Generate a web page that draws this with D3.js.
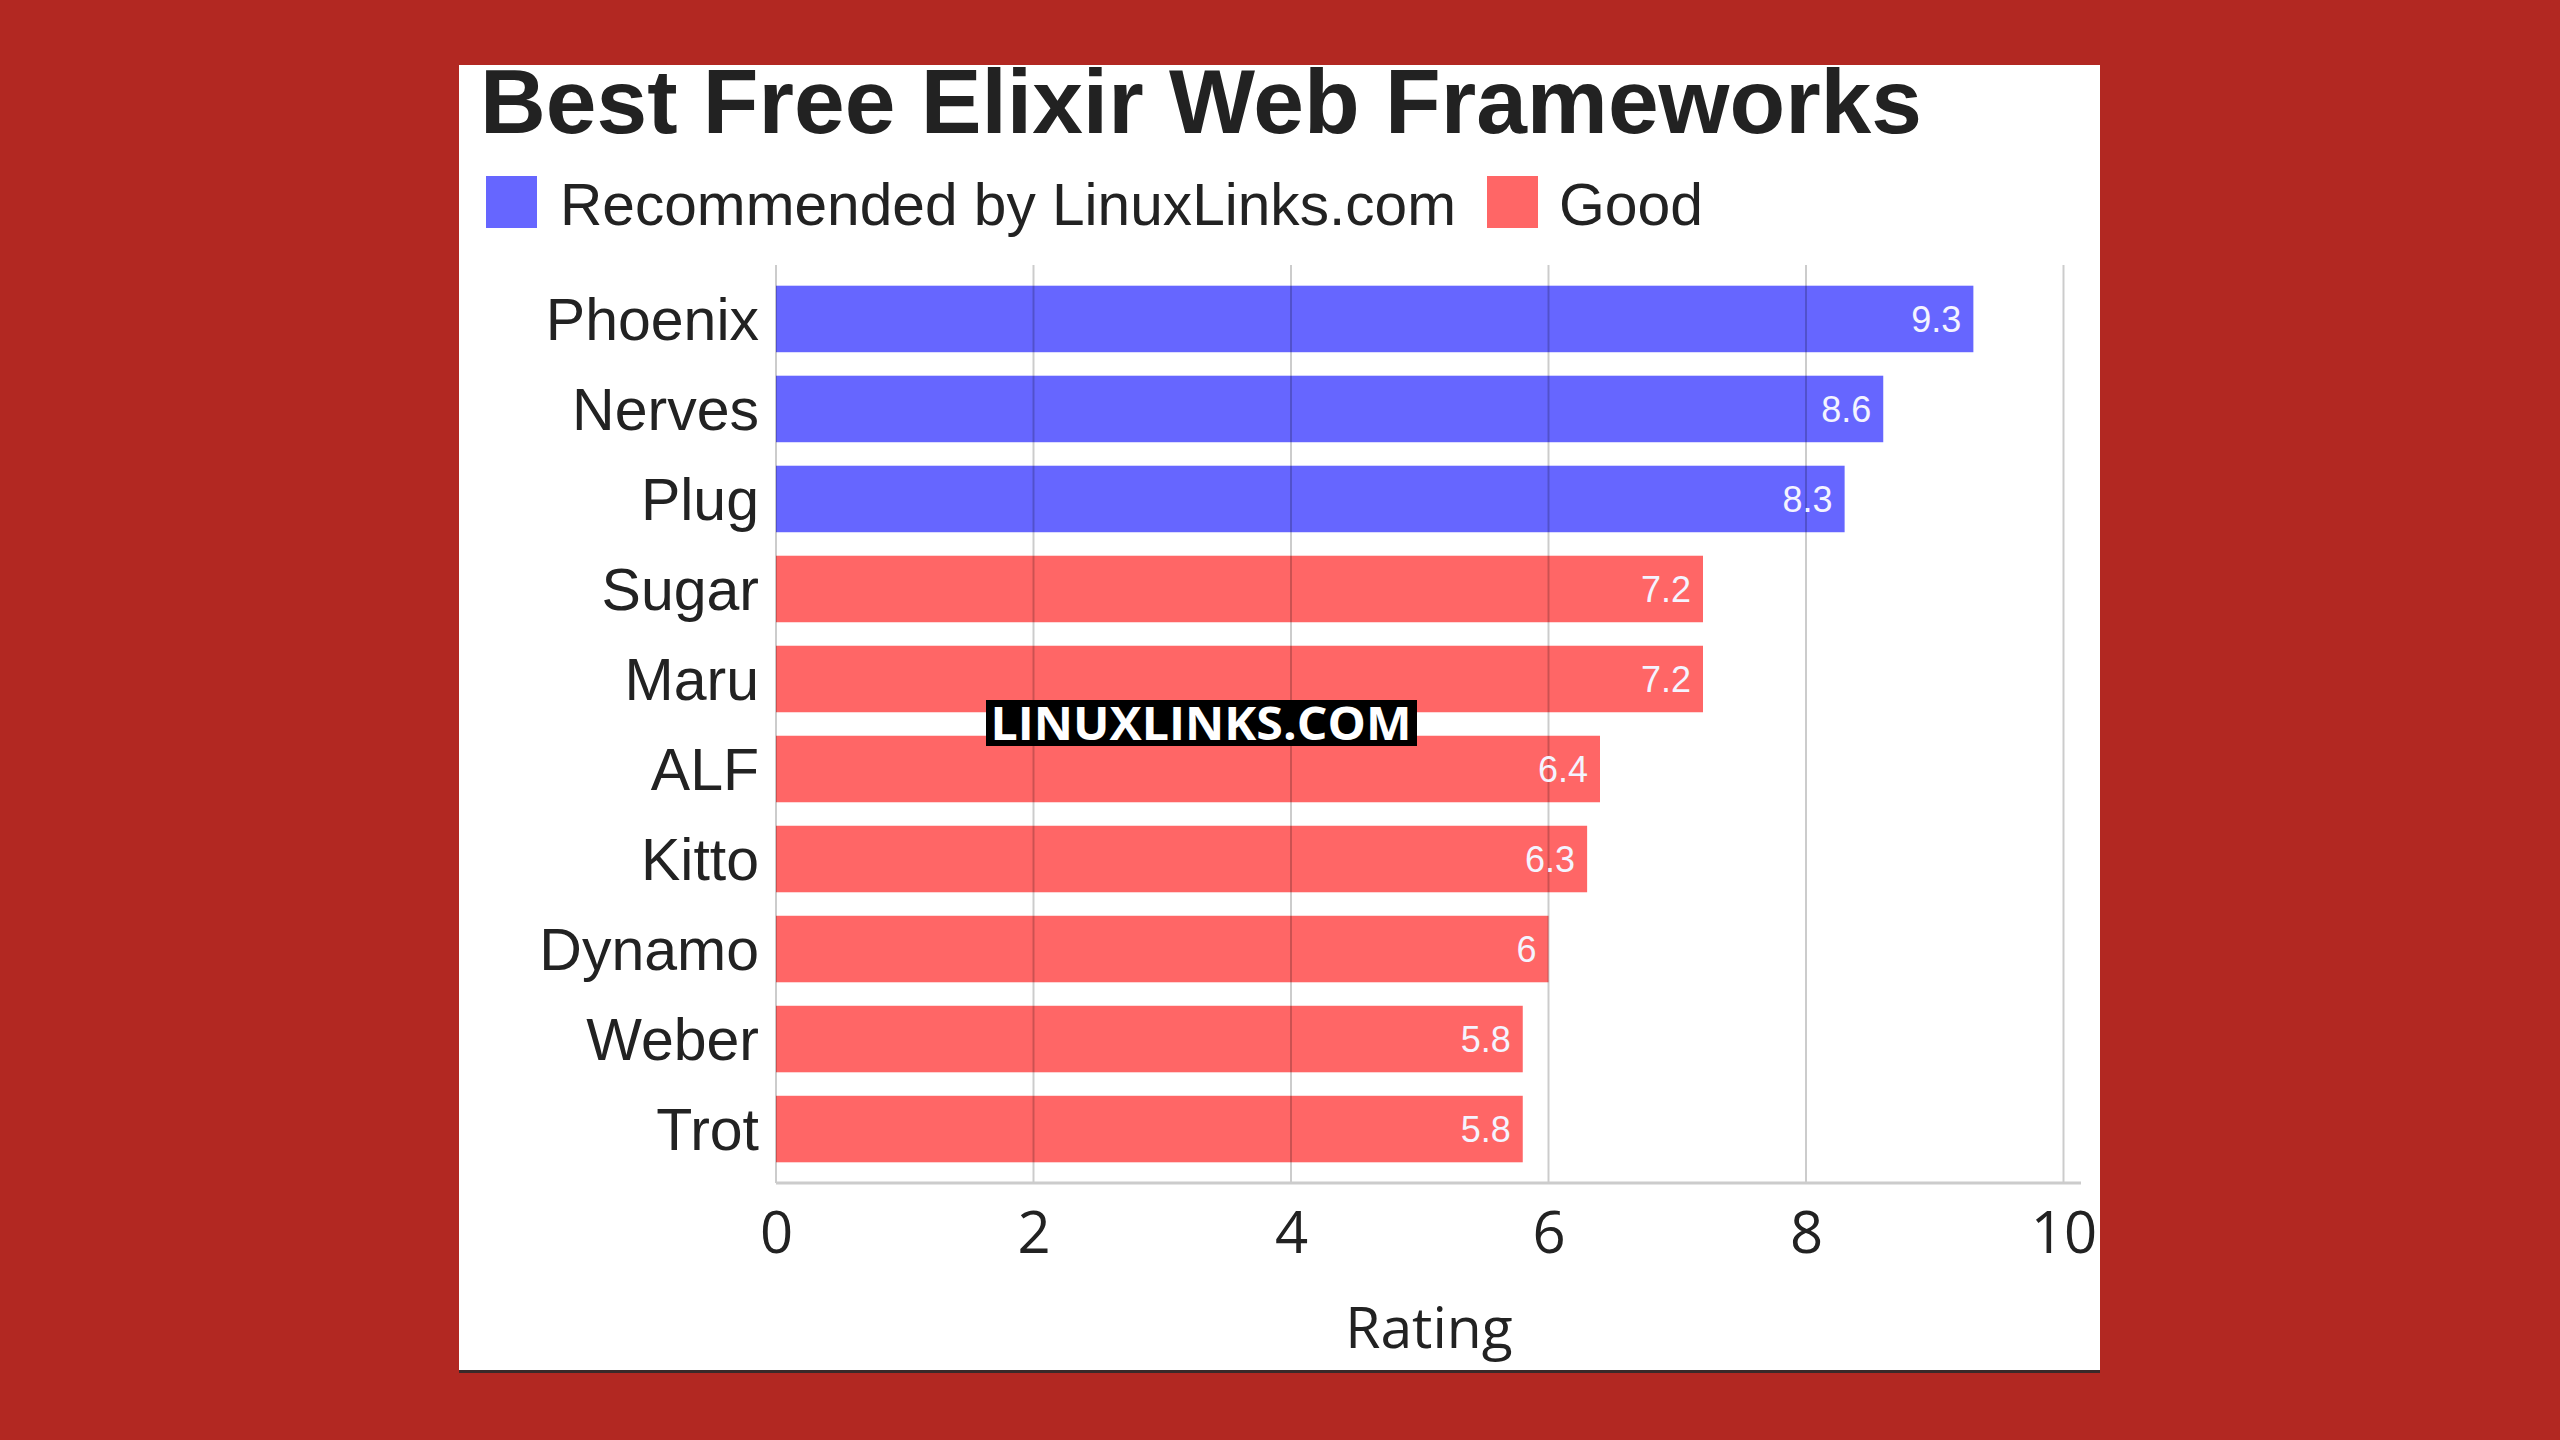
<!DOCTYPE html>
<html>
<head>
<meta charset="utf-8">
<script src="https://cdn.jsdelivr.net/npm/d3@7"></script>
<style>
  html, body { margin: 0; padding: 0; background: #b22822; }
  svg { display: block; }
</style>
</head>
<body>
<svg id="chart" width="2560" height="1440"></svg>
<script>
// ---- data ----
const categories = ["Phoenix", "Nerves", "Plug", "Sugar", "Maru", "ALF", "Kitto", "Dynamo", "Weber", "Trot"];
const ratings = [9.3, 8.6, 8.3, 7.2, 7.2, 6.4, 6.3, 6, 5.8, 5.8];
const groups = ["Recommended", "Recommended", "Recommended", "Good", "Good", "Good", "Good", "Good", "Good", "Good"];
const legendLabels = ["Recommended by LinuxLinks.com", "Good"];
const xTicks = [0, 2, 4, 6, 8, 10];
const titleText = "Best Free Elixir Web Frameworks";
const axisTitle = "Rating";
const watermark = "LINUXLINKS.COM";

const colors = { Recommended: "#6666ff", Good: "#ff6666" };

const svg = d3.select("#chart");

// background + panel
svg.append("rect").attr("width", 2560).attr("height", 1440).attr("fill", "#b22822");
svg.append("rect").attr("x", 459).attr("y", 1369).attr("width", 1641).attr("height", 4).attr("fill", "#3a2a2a");
svg.append("rect").attr("x", 459).attr("y", 65).attr("width", 1641).attr("height", 1305).attr("fill", "#ffffff");

// scales
const x = d3.scaleLinear().domain([0, 10]).range([776, 2063.5]);
const y = d3.scaleBand().domain(categories).range([265, 1183]).paddingInner(0.261).paddingOuter(0.23);

const data = categories.map((c, i) => ({ name: c, value: ratings[i], group: groups[i] }));

// title
svg.append("text")
  .attr("x", 480).attr("y", 133)
  .attr("font-family", "'Liberation Sans', Arial, sans-serif")
  .attr("font-weight", "bold").attr("font-size", 90)
  .attr("fill", "#222")
  .attr("textLength", 1442).attr("lengthAdjust", "spacingAndGlyphs")
  .text(titleText);

// legend
const legendItems = [
  { label: legendLabels[0], color: colors.Recommended, sx: 486, tx: 560, tw: 896 },
  { label: legendLabels[1], color: colors.Good, sx: 1487, tx: 1559, tw: 144 }
];
legendItems.forEach(d => {
  svg.append("rect").attr("x", d.sx).attr("y", 176).attr("width", 51).attr("height", 52).attr("fill", d.color);
  svg.append("text")
    .attr("x", d.tx).attr("y", 225)
    .attr("font-family", "'Liberation Sans', Arial, sans-serif")
    .attr("font-size", 60).attr("fill", "#222")
    .attr("textLength", d.tw).attr("lengthAdjust", "spacingAndGlyphs")
    .text(d.label);
});

// bars
svg.append("g").selectAll("rect").data(data).join("rect")
  .attr("x", x(0))
  .attr("y", d => y(d.name))
  .attr("width", d => x(d.value) - x(0))
  .attr("height", y.bandwidth())
  .attr("fill", d => colors[d.group]);

// gridlines (on top, translucent)
svg.append("g").selectAll("line").data(xTicks).join("line")
  .attr("x1", d => x(d)).attr("x2", d => x(d))
  .attr("y1", 265).attr("y2", 1183)
  .attr("stroke", "rgba(0,0,0,0.2)").attr("stroke-width", 2);

// axis baseline
svg.append("line")
  .attr("x1", x(0)).attr("x2", 2081)
  .attr("y1", 1183).attr("y2", 1183)
  .attr("stroke", "#cccccc").attr("stroke-width", 3);

// value labels
svg.append("g").selectAll("text").data(data).join("text")
  .attr("x", d => x(d.value) - 12)
  .attr("y", d => y(d.name) + y.bandwidth() / 2)
  .attr("dy", "0.36em")
  .attr("text-anchor", "end")
  .attr("font-family", "'Liberation Sans', Arial, sans-serif")
  .attr("font-size", 36).attr("fill", "#f4f4ff")
  .text(d => String(d.value));

// category labels (y axis)
const yAxis = d3.axisLeft(y).tickSize(0).tickPadding(17);
const gy = svg.append("g").attr("transform", `translate(${x(0)},0)`).call(yAxis);
gy.select(".domain").remove();
gy.selectAll("text")
  .attr("font-family", "'Liberation Sans', Arial, sans-serif")
  .attr("font-size", 59).attr("fill", "#222").attr("dy", "0.36em");

// x axis tick labels
const xAxis = d3.axisBottom(x).tickValues(xTicks).tickSize(0).tickPadding(0).tickFormat(d3.format("d"));
const gx = svg.append("g").attr("transform", "translate(0,1183)").call(xAxis);
gx.select(".domain").remove();
gx.selectAll("text")
  .attr("font-family", "'Open Sans', 'Noto Sans', sans-serif")
  .attr("font-size", 58).attr("fill", "#222")
  .attr("y", 70).attr("dy", 0);

// axis title
svg.append("text")
  .attr("x", 1429).attr("y", 1348)
  .attr("text-anchor", "middle")
  .attr("font-family", "'Open Sans', 'Noto Sans', sans-serif")
  .attr("font-size", 57).attr("fill", "#222")
  .text(axisTitle);

// watermark
svg.append("rect").attr("x", 986).attr("y", 700).attr("width", 431).attr("height", 46).attr("fill", "#000");
svg.append("text")
  .attr("x", 1201).attr("y", 740)
  .attr("text-anchor", "middle")
  .attr("font-family", "'Open Sans', 'Noto Sans', sans-serif")
  .attr("font-weight", "bold").attr("font-size", 47).attr("fill", "#fff")
  .attr("textLength", 421).attr("lengthAdjust", "spacingAndGlyphs")
  .text(watermark);
</script>
</body>
</html>
